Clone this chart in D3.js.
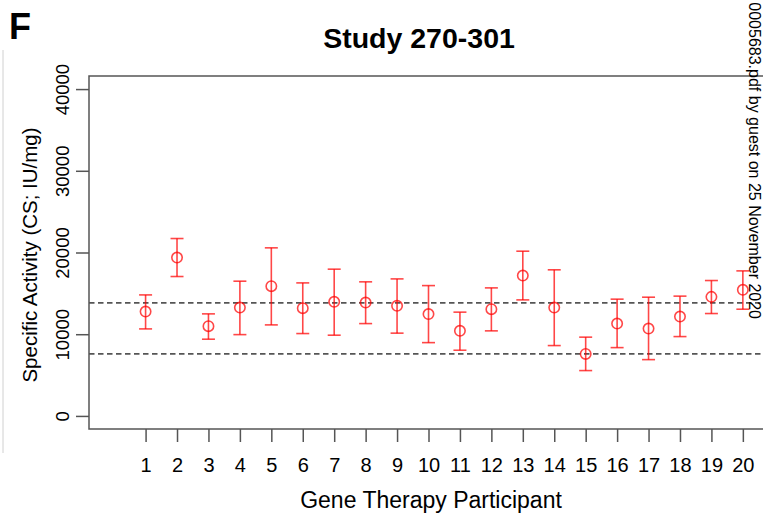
<!DOCTYPE html>
<html>
<head>
<meta charset="utf-8">
<script src="https://cdn.jsdelivr.net/npm/d3@7"></script>
<style>
  html, body { margin: 0; padding: 0; background: #fff; }
  svg { display: block; font-family: "Liberation Sans", Arial, Helvetica, sans-serif; }
</style>
</head>
<body>
<svg id="chart" width="763" height="514"></svg>
<script>
// ---- data ----
const participants = [1,2,3,4,5,6,7,8,9,10,11,12,13,14,15,16,17,18,19,20];
const means = [12770,19380,10980,13260,15880,13190,13960,13870,13470,12460,10410,13060,17180,13260,7590,11300,10690,12160,14570,15430];
const upper = [14810,21710,12490,16490,20570,16280,17960,16410,16770,15950,12700,15670,20160,17880,9640,14290,14530,14660,16570,17750];
const lower = [10650,17060,9390,9950,11140,10080,9880,11300,10130,8970,8040,10410,14200,8610,5550,8360,6890,9710,12530,13060];
const refLines = [13835, 7591];
const yTicks = [0, 10000, 20000, 30000, 40000];
const titleText = "Study 270-301";
const xTitle = "Gene Therapy Participant";
const yTitle = "Specific Activity (CS; IU/mg)";
const panelLabel = "F";
const watermark = "0005683.pdf by guest on 25 November 2020";

(function () {
// ---- layout ----
const svg = d3.select("#chart");
const pL = 89, pR = 768, pT = 76, pB = 429;
const x = d3.scaleLinear().domain([-0.8, 20.8]).range([pL, pR]);
const y = d3.scaleLinear().domain([-1600, 41600]).range([pB, pT]);
const axisCol = "#555";
const red = "rgba(255,0,0,0.72)";

// page border line at far left
svg.append("line").attr("x1", 3).attr("x2", 3).attr("y1", 50).attr("y2", 453)
  .attr("stroke", "#d0d0d0").attr("stroke-width", 1);

// panel letter
svg.append("text").attr("x", 9).attr("y", 39).attr("font-size", 36).attr("font-weight", "bold")
  .text(panelLabel);

// title
svg.append("text").attr("x", 419).attr("y", 48).attr("text-anchor", "middle")
  .attr("font-size", 28.5).attr("font-weight", "bold").text(titleText);

// box
svg.append("rect").attr("x", pL).attr("y", pT).attr("width", pR - pL).attr("height", pB - pT)
  .attr("fill", "none").attr("stroke", axisCol).attr("stroke-width", 1.5);

// y axis
const yAxis = d3.axisLeft(y).tickValues(yTicks).tickSize(13).tickFormat(d3.format("d"));
const ya = svg.append("g").attr("transform", `translate(${pL},0)`).call(yAxis);
ya.select(".domain").remove();
ya.selectAll(".tick line").attr("stroke", axisCol).attr("stroke-width", 1.5);
ya.selectAll(".tick text")
  .attr("font-size", 18.5).attr("fill", "#000")
  .attr("text-anchor", "middle").attr("dy", null).attr("x", null)
  .attr("transform", "translate(-20,0) rotate(-90)");

// x axis
const xAxis = d3.axisBottom(x).tickValues(participants).tickSize(13).tickFormat(d3.format("d"));
const xa = svg.append("g").attr("transform", `translate(0,${pB})`).call(xAxis);
xa.select(".domain").remove();
xa.selectAll(".tick line").attr("stroke", axisCol).attr("stroke-width", 1.5);
xa.selectAll(".tick text").attr("font-size", 20).attr("fill", "#000").attr("dy", null).attr("y", 43);

// axis titles
svg.append("text").attr("x", 431).attr("y", 508).attr("text-anchor", "middle")
  .attr("font-size", 23).text(xTitle);
svg.append("text").attr("transform", "translate(37,255) rotate(-90)").attr("text-anchor", "middle")
  .attr("font-size", 20.5).text(yTitle);

// reference lines
svg.selectAll("line.ref").data(refLines).enter().append("line").attr("class", "ref")
  .attr("x1", pL).attr("x2", pR).attr("y1", d => y(d)).attr("y2", d => y(d))
  .attr("stroke", axisCol).attr("stroke-width", 1.6).attr("stroke-dasharray", "5.5,3.5");

// error bars
const pts = participants.map((p, i) => ({p, m: means[i], lo: lower[i], hi: upper[i]}));
const g = svg.append("g");
const capW = 6.5;
g.selectAll("line.v").data(pts).enter().append("line")
  .attr("x1", d => x(d.p)).attr("x2", d => x(d.p)).attr("y1", d => y(d.lo)).attr("y2", d => y(d.hi))
  .attr("stroke", red).attr("stroke-width", 1.6);
g.selectAll("line.cu").data(pts).enter().append("line")
  .attr("x1", d => x(d.p) - capW).attr("x2", d => x(d.p) + capW).attr("y1", d => y(d.hi)).attr("y2", d => y(d.hi))
  .attr("stroke", red).attr("stroke-width", 1.6);
g.selectAll("line.cl").data(pts).enter().append("line")
  .attr("x1", d => x(d.p) - capW).attr("x2", d => x(d.p) + capW).attr("y1", d => y(d.lo)).attr("y2", d => y(d.lo))
  .attr("stroke", red).attr("stroke-width", 1.6);
g.selectAll("circle").data(pts).enter().append("circle")
  .attr("cx", d => x(d.p)).attr("cy", d => y(d.m)).attr("r", 5.2)
  .attr("fill", "none").attr("stroke", red).attr("stroke-width", 1.6);

// watermark
svg.append("text").attr("transform", "translate(749,319) rotate(90)").attr("text-anchor", "end")
  .attr("font-size", 16).attr("fill", "#000").text(watermark);
})();
</script>
</body>
</html>
